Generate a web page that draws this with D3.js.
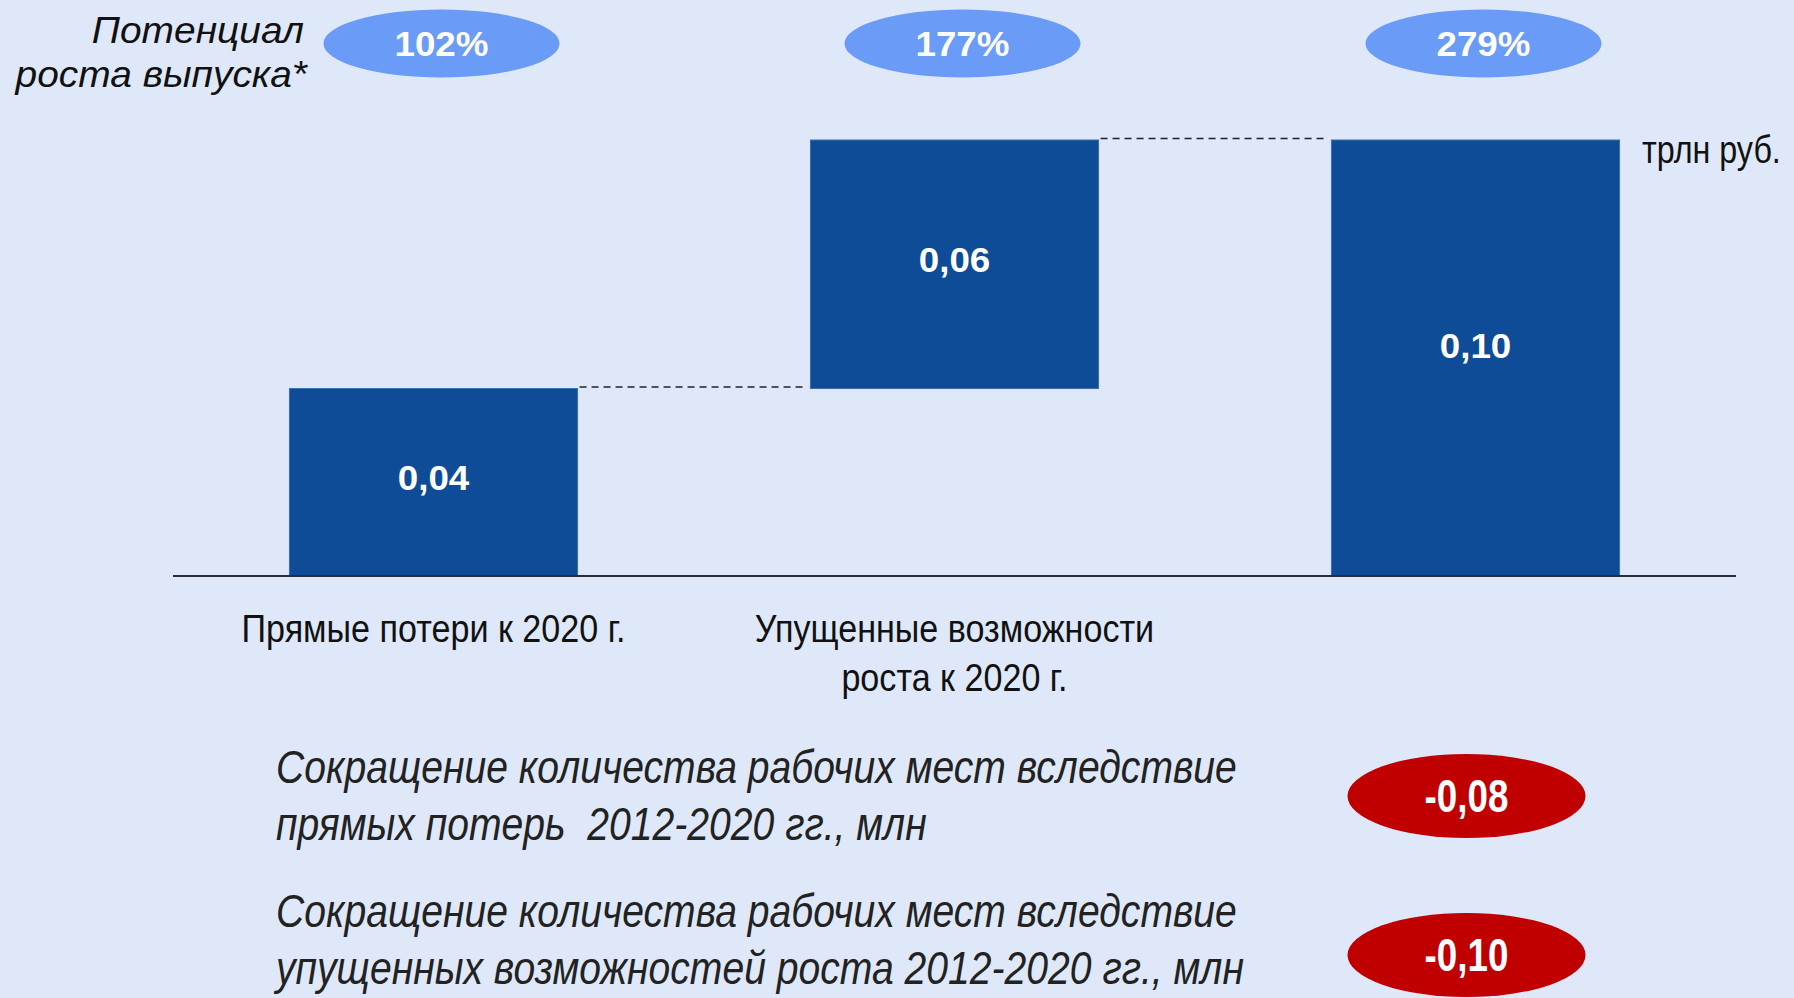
<!DOCTYPE html>
<html>
<head>
<meta charset="utf-8">
<script src="https://cdn.jsdelivr.net/npm/d3@7"></script>
<style>
  html, body { margin: 0; padding: 0; background: #dee8f9; }
  svg { display: block; }
  text { font-family: "Liberation Sans", Arial, sans-serif; white-space: pre; }
</style>
</head>
<body>
<script>
// bars of the waterfall (trillion rub.)
const catKeys = ["direct", "missed", "total"];
const catLabels = [["Прямые потери к 2020 г."], ["Упущенные возможности", "роста к 2020 г."], []];
const barValues = [0.043, 0.057, 0.100];
const barTypes = ["delta", "delta", "total"];
// growth potential badges above the bars
const growthPotential = [102, 177, 279];
// job losses, mln
const jobLabels = [
  ["Сокращение количества рабочих мест вследствие", "прямых потерь  2012-2020 гг., млн"],
  ["Сокращение количества рабочих мест вследствие", "упущенных возможностей роста 2012-2020 гг., млн"]
];
const jobValues = [-0.08, -0.10];

const W = 1794, H = 998;
const svg = d3.select("body").append("svg").attr("width", W).attr("height", H);
svg.append("rect").attr("width", W).attr("height", H).attr("fill", "#dee8f9");

const x = d3.scaleBand().domain(catKeys).range([173, 1736]).paddingInner(0.447).paddingOuter(0.2235);
const y = d3.scaleLinear().domain([0, 0.10]).range([576, 140]);
const fmt = v => d3.format(".2f")(v).replace(".", ",").replace("\u2212", "-");

// squeeze / stretch text horizontally
function fit(sel, k) {
  sel.each(function() {
    const w = this.getComputedTextLength();
    d3.select(this).attr("textLength", w * k).attr("lengthAdjust", "spacingAndGlyphs");
  });
}

let run = 0;
const bars = catKeys.map((k, i) => {
  let base, top;
  if (barTypes[i] == "total") { base = 0; top = barValues[i]; }
  else { base = run; top = run + barValues[i]; run = top; }
  return { key: k, base: base, top: top, v: barValues[i] };
});

// connectors
for (let i = 0; i < bars.length - 1; i++) {
  svg.append("line")
    .attr("x1", x(bars[i].key) + x.bandwidth() + 2)
    .attr("x2", x(bars[i + 1].key) - 4)
    .attr("y1", y(bars[i].top) - 1.5)
    .attr("y2", y(bars[i].top) - 1.5)
    .attr("stroke", "#222").attr("stroke-width", 1.5).attr("stroke-dasharray", "7,5");
}

svg.selectAll("rect.bar").data(bars).join("rect")
  .attr("class", "bar")
  .attr("x", d => x(d.key))
  .attr("width", x.bandwidth())
  .attr("y", d => y(d.top))
  .attr("height", d => y(d.base) - y(d.top))
  .attr("fill", "#0f4c97")
  .attr("stroke", "#3f6fae").attr("stroke-width", 1);

svg.append("line")
  .attr("x1", x.range()[0]).attr("x2", x.range()[1])
  .attr("y1", y(0)).attr("y2", y(0))
  .attr("stroke", "#2b2b33").attr("stroke-width", 2);

svg.selectAll("text.val").data(bars).join("text")
  .attr("class", "val")
  .attr("x", d => x(d.key) + x.bandwidth() / 2)
  .attr("y", d => (y(d.base) + y(d.top)) / 2 + (d.base == 0 && d.top > 0.09 ? 0 : 8))
  .attr("text-anchor", "middle")
  .attr("font-size", 35).attr("font-weight", "bold").attr("fill", "#fff")
  .text(d => fmt(d.v))
  .call(fit, 1.05);

// category labels
catKeys.forEach((k, i) => {
  catLabels[i].forEach((l, j) => {
    svg.append("text")
      .attr("x", x(k) + x.bandwidth() / 2)
      .attr("y", 642 + j * 49)
      .attr("text-anchor", "middle")
      .attr("font-size", 38.5).attr("fill", "#111")
      .text(l)
      .call(fit, 0.886);
  });
});

svg.append("text")
  .attr("transform", "translate(1642,163) scale(0.85,1)")
  .attr("font-size", 38).attr("fill", "#111")
  .text("трлн руб.");

// growth potential
svg.append("text").attr("x", 304).attr("y", 43).attr("text-anchor", "end")
  .attr("font-size", 36).attr("font-style", "italic").attr("fill", "#111")
  .text("Потенциал").call(fit, 1.08);
svg.append("text").attr("x", 307).attr("y", 87).attr("text-anchor", "end")
  .attr("font-size", 36).attr("font-style", "italic").attr("fill", "#111")
  .text("роста выпуска*").call(fit, 1.08);

const badgeY = 43.5;
svg.selectAll("ellipse.gp").data(growthPotential).join("ellipse")
  .attr("class", "gp")
  .attr("cx", (d, i) => x(catKeys[i]) + x.bandwidth() / 2 + 8)
  .attr("cy", badgeY).attr("rx", 118).attr("ry", 34)
  .attr("fill", "#6a9bf7");
svg.selectAll("text.gp").data(growthPotential).join("text")
  .attr("class", "gp")
  .attr("x", (d, i) => x(catKeys[i]) + x.bandwidth() / 2 + 8)
  .attr("y", badgeY + 12.5)
  .attr("text-anchor", "middle")
  .attr("font-size", 35).attr("font-weight", "bold").attr("fill", "#fff")
  .text(d => d + "%")
  .call(fit, 1.05);

// job losses
const rowY = d3.scalePoint().domain([0, 1]).range([811, 955]);
const badgeRowY = d3.scalePoint().domain([0, 1]).range([796, 955]);
jobLabels.forEach((lines, i) => {
  lines.forEach((l, j) => {
    svg.append("text")
      .attr("x", 276)
      .attr("y", rowY(i) - 28 + j * 57)
      .attr("font-size", 46).attr("font-style", "italic").attr("fill", "#222")
      .text(l)
      .call(fit, 0.85);
  });
});
svg.selectAll("ellipse.job").data(jobValues).join("ellipse")
  .attr("class", "job")
  .attr("cx", x("total") + x.bandwidth() / 2 - 9)
  .attr("cy", (d, i) => badgeRowY(i))
  .attr("rx", 119).attr("ry", 42)
  .attr("fill", "#c00000");
svg.selectAll("text.job").data(jobValues).join("text")
  .attr("class", "job")
  .attr("x", x("total") + x.bandwidth() / 2 - 9)
  .attr("y", (d, i) => badgeRowY(i) + 16)
  .attr("text-anchor", "middle")
  .attr("font-size", 46).attr("font-weight", "bold").attr("fill", "#fff")
  .text(d => fmt(d))
  .call(fit, 0.8);
</script>
</body>
</html>
